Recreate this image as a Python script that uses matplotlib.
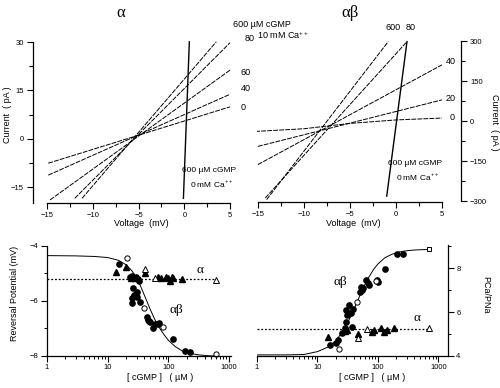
import numpy as np
import matplotlib
matplotlib.use("Agg")
from matplotlib import pyplot as plt
from matplotlib.ticker import FixedLocator, LogLocator, NullFormatter, FuncFormatter

plt.rcParams['font.family'] = ['Liberation Sans', 'DejaVu Sans']
plt.rcParams['mathtext.fontset'] = 'custom'
plt.rcParams['mathtext.rm'] = 'Liberation Sans'

W, H = 500, 388

# ---- top panels: I-V traces (voltage, current) ----
iv_alpha_v = [[-14.9, 5.0], [-14.9, 5.0], [-14.7, 5.0], [-12.0, 5.0], [-11.2, 3.5]]
iv_alpha_i = [[-7.6, 9.9], [-11.3, 13.8], [-19.0, 21.3], [-18.5, 29.8], [-18.5, 30.1]]
iv_alpha_zero_ca_v = [-0.1, 0.55]
iv_alpha_zero_ca_i = [-18.5, 30.1]

iv_ab_v = [[-15.3, -10, -5, 0, 5], [-15.0, 5.0], [-15.0, 5.0], [-14.2, 1.2], [-14.05, -0.84]]
iv_ab_i = [[-38, -28, -8, 5, 12], [-94, 80], [-162, 211], [-287, 298], [-293, 298]]
iv_ab_zero_ca_v = [-1.0, 1.2]
iv_ab_zero_ca_i = [-280, 298]

# ---- bottom left: reversal potential (mV) vs [cGMP] (uM) ----
erev_ab_c = [15.3, 23.5, 25, 27, 29, 31, 32.8, 26, 27, 30, 34, 25, 24.8, 30,
             44, 46, 49.6, 48, 55.7, 60, 67, 70, 118, 188, 226]
erev_ab_v = [-4.65, -5.13, -5.1, -5.16, -5.13, -5.2, -5.27, -5.53, -5.78, -5.84, -6.03, -5.9, -6.08, -5.66,
             -6.57, -6.7, -6.77, -6.72, -6.97, -6.84, -6.84, -6.81, -7.38, -7.82, -7.84]
erev_ab_open_c = [20.6, 40, 81, 600]
erev_ab_open_v = [-4.42, -6.24, -6.93, -7.93]
erev_a_c = [13.5, 20, 24, 28, 41, 67, 75, 90, 98, 107, 113, 119, 165]
erev_a_v = [-4.95, -4.78, -5.15, -5.18, -4.98, -5.12, -5.15, -5.13, -5.17, -5.27, -5.11, -5.17, -5.21]
erev_a_open_c = [41, 60, 600]
erev_a_open_v = [-4.84, -5.15, -5.24]
erev_a_level = -5.21
erev_fit_c = [1, 3, 6, 10, 15, 20, 25, 30, 35, 40, 45, 50, 60, 70, 85, 100, 130, 170, 230, 320, 450, 600]
erev_fit_v = [-4.35, -4.36, -4.38, -4.42, -4.52, -4.68, -4.9, -5.17, -5.47, -5.78, -6.05, -6.3,
              -6.68, -6.95, -7.23, -7.43, -7.66, -7.82, -7.91, -7.96, -7.99, -8.0]

# ---- bottom right: PCa/PNa vs [cGMP] ----
perm_ab_c = [16.4, 21.7, 20.5, 25.8, 28.5, 36.5, 29.3, 31.3, 35.5, 29.3, 38, 33,
             52, 55, 50, 57, 63, 71, 68, 98, 100, 131, 205, 258]
perm_ab_v = [4.5, 4.73, 4.6, 5.06, 5.26, 5.33, 5.56, 5.86, 5.94, 6.09, 6.16, 6.3,
             7.15, 7.0, 6.92, 7.1, 7.45, 7.23, 7.3, 7.48, 7.35, 7.98, 8.64, 8.64]
perm_ab_open_c = [22.6, 44.7, 92]
perm_ab_open_v = [4.3, 6.47, 7.42]
perm_ab_sq_c = [700]
perm_ab_sq_v = [8.85]
perm_a_c = [14.9, 28, 31, 46, 79, 87, 112, 127, 140, 183]
perm_a_v = [4.88, 5.13, 5.18, 4.98, 5.1, 5.17, 5.26, 5.1, 5.2, 5.26]
perm_a_open_c = [46, 67, 700]
perm_a_open_v = [4.8, 5.21, 5.26]
perm_a_level = 5.21
perm_fit_c = [1, 3, 6, 10, 15, 20, 25, 30, 35, 40, 45, 50, 60, 70, 85, 100, 130, 170, 230, 320, 450, 700]
perm_fit_v = [4.05, 4.05, 4.07, 4.2, 4.41, 4.69, 5.04, 5.41, 5.77, 6.13, 6.45, 6.74,
              7.22, 7.57, 7.95, 8.19, 8.47, 8.63, 8.74, 8.8, 8.83, 8.85]

fig = plt.figure(figsize=(W / 100, H / 100), dpi=100)


def box(l, t, r, b):
    return [l / W, 1 - b / H, (r - l) / W, (b - t) / H]


def ftext(x, y, s, **kw):
    fig.text(x / W, 1 - y / H, s, **kw)


tick_fs = 5.5
lab_fs = 6.5
ann_fs = 6
serif = ['Liberation Serif', 'DejaVu Serif']
trace = dict(color='black', lw=0.7, dashes=(5, 1.2))

# ---------------- top left ----------------
ax1 = fig.add_axes(box(33, 40, 233, 203))
for v, i in zip(iv_alpha_v, iv_alpha_i):
    ax1.plot(v, i, **trace)
ax1.plot(iv_alpha_zero_ca_v, iv_alpha_zero_ca_i, color='black', lw=1.0)
ax1.set_xlim(-16.57, 5.33)
ax1.set_ylim(-19.95, 30.65)
ax1.spines[['top', 'right']].set_visible(False)
ax1.spines['left'].set_bounds(-19.95, 30)
ax1.spines['bottom'].set_bounds(-15, 5)
ax1.set_xticks([-15, -10, -5, 0, 5])
ax1.set_xticks([-12.5, -7.5, -2.5, 2.5], minor=True)
ax1.set_yticks([-15, 0, 15, 30])
ax1.set_yticks([-7.5, 7.5, 22.5], minor=True)
ax1.text(6.2, 9.8, '0', fontsize=lab_fs, va='center', clip_on=False)
ax1.text(6.2, 15.7, '40', fontsize=lab_fs, va='center', clip_on=False)
ax1.text(6.2, 20.7, '60', fontsize=lab_fs, va='center', clip_on=False)
ax1.text(6.6, 31.0, '80', fontsize=lab_fs, va='center', clip_on=False)
ax1.text(5.3, 35.6, '600 µM cGMP', fontsize=lab_fs, va='center', clip_on=False)
ax1.text(2.7, -10.0, '600 µM cGMP', fontsize=ann_fs, ha='center', va='center')
ax1.text(3.0, -13.9, '0 mM Ca$^{++}$', fontsize=ann_fs, ha='center', va='center')
ftext(257, 35, '10 mM Ca$^{++}$', fontsize=lab_fs, va='center')

# ---------------- top right ----------------
ax2 = fig.add_axes(box(257, 40, 461, 202))
for v, i in zip(iv_ab_v, iv_ab_i):
    ax2.plot(v, i, **trace)
ax2.plot(iv_ab_zero_ca_v, iv_ab_zero_ca_i, color='black', lw=1.0)
ax2.set_xlim(-15.1, 7.07)
ax2.set_ylim(-302, 304)
ax2.spines[['top', 'left']].set_visible(False)
ax2.spines['right'].set_bounds(-300, 300)
ax2.spines['bottom'].set_bounds(-15, 5)
ax2.yaxis.tick_right()
ax2.set_xticks([-15, -10, -5, 0, 5])
ax2.set_xticks([-12.5, -7.5, -2.5, 2.5], minor=True)
ax2.set_yticks([-300, -150, 0, 150, 300])
ax2.set_yticks([-225, -75, 75, 225], minor=True)
ax2.text(-0.33, 349, '600', fontsize=lab_fs, ha='center', va='center', clip_on=False)
ax2.text(1.55, 349, '80', fontsize=lab_fs, ha='center', va='center', clip_on=False)
ax2.text(5.4, 222, '40', fontsize=lab_fs, va='center')
ax2.text(5.4, 84, '20', fontsize=lab_fs, va='center')
ax2.text(5.85, 13, '0', fontsize=lab_fs, va='center')
ax2.text(2.07, -158, '600 µM cGMP', fontsize=ann_fs, ha='center', va='center')
ax2.text(2.4, -205, '0 mM Ca$^{++}$', fontsize=ann_fs, ha='center', va='center')

for ax in (ax1, ax2):
    ax.tick_params(which='major', length=4.5, width=0.8, labelsize=tick_fs, pad=2)
    ax.tick_params(which='minor', length=3, width=0.8)
    for s in ax.spines.values():
        s.set_linewidth(0.9)

ftext(121, 13, 'α', fontsize=12, family=serif, ha='center', va='center')
ftext(350, 13, 'αβ', fontsize=12, family=serif, ha='center', va='center')
ftext(8, 115, 'Current  ( pA )', fontsize=lab_fs, rotation=90, ha='center', va='center')
ftext(495, 122, 'Current  ( pA )', fontsize=lab_fs, rotation=270, ha='center', va='center')
ftext(141, 224, 'Voltage  (mV)', fontsize=lab_fs, ha='center', va='center')
ftext(353, 224, 'Voltage  (mV)', fontsize=lab_fs, ha='center', va='center')

# ---------------- bottom left ----------------
ms = 3.8
ax3 = fig.add_axes(box(47, 245, 231, 356))
ax3.set_xscale('log')
ax3.plot(erev_fit_c, erev_fit_v, color='black', lw=0.7)
ax3.plot([1, 600], [erev_a_level, erev_a_level], color='black', lw=0.9, ls=(0, (1.5, 1.5)))
ax3.plot(erev_ab_c, erev_ab_v, 'o', color='black', ms=ms, clip_on=False)
ax3.plot(erev_ab_open_c, erev_ab_open_v, 'o', mfc='white', mec='black', mew=0.7, ms=ms, clip_on=False)
ax3.plot(erev_a_c, erev_a_v, '^', color='black', ms=ms, clip_on=False)
ax3.plot(erev_a_open_c, erev_a_open_v, '^', mfc='white', mec='black', mew=0.7, ms=ms, clip_on=False)
ax3.set_xlim(1, 1074)
ax3.set_ylim(-8, -3.964)
ax3.spines[['top', 'right']].set_visible(False)
ax3.spines['left'].set_bounds(-8, -4)
ax3.set_yticks([-8, -6, -4])
ax3.set_yticks([-7, -5], minor=True)
ax3.text(332, -4.87, 'α', fontsize=9.5, family=serif, ha='center', va='center')
ax3.text(137, -6.33, 'αβ', fontsize=9.5, family=serif, ha='center', va='center')

# ---------------- bottom right ----------------
ax4 = fig.add_axes(box(257, 245, 448, 356))
ax4.set_xscale('log')
ax4.plot(perm_fit_c, perm_fit_v, color='black', lw=0.7)
ax4.plot([1, 700], [perm_a_level, perm_a_level], color='black', lw=0.9, ls=(0, (1.5, 1.5)))
ax4.plot(perm_ab_c, perm_ab_v, 'o', color='black', ms=ms, clip_on=False)
ax4.plot(perm_ab_open_c, perm_ab_open_v, 'o', mfc='white', mec='black', mew=0.7, ms=ms, clip_on=False)
ax4.plot(perm_ab_sq_c, perm_ab_sq_v, 's', mfc='white', mec='black', mew=0.7, ms=3.5, clip_on=False)
ax4.plot(perm_a_c, perm_a_v, '^', color='black', ms=ms, clip_on=False)
ax4.plot(perm_a_open_c, perm_a_open_v, '^', mfc='white', mec='black', mew=0.7, ms=ms, clip_on=False)
ax4.set_xlim(1, 1436)
ax4.set_ylim(4, 9.05)
ax4.spines[['top', 'left']].set_visible(False)
ax4.yaxis.tick_right()
ax4.set_yticks([4, 6, 8])
ax4.set_yticks([5, 7, 9], minor=True)
ax4.text(23.5, 7.36, 'αβ', fontsize=9.5, family=serif, ha='center', va='center')
ax4.text(436, 5.73, 'α', fontsize=9.5, family=serif, ha='center', va='center')

for ax in (ax3, ax4):
    ax.xaxis.set_major_locator(FixedLocator([1, 10, 100, 1000]))
    ax.xaxis.set_major_formatter(FuncFormatter(lambda x, p: '%g' % x))
    ax.xaxis.set_minor_locator(LogLocator(base=10, subs=np.arange(2, 10)))
    ax.xaxis.set_minor_formatter(NullFormatter())
    ax.tick_params(which='major', length=4, width=0.8, labelsize=tick_fs, pad=2)
    ax.tick_params(which='minor', length=2.5, width=0.7)
    for s in ax.spines.values():
        s.set_linewidth(0.9)

ftext(15, 293, 'Reversal Potential (mV)', fontsize=lab_fs, rotation=90, ha='center', va='center')
ftext(160, 377, '[ cGMP ]   ( µM )', fontsize=lab_fs, ha='center', va='center')
ftext(372, 377, '[ cGMP ]   ( µM )', fontsize=lab_fs, ha='center', va='center')
ftext(486, 295, 'PCa/PNa', fontsize=lab_fs, rotation=270, ha='center', va='center')

fig.savefig('out.png', dpi=100)
